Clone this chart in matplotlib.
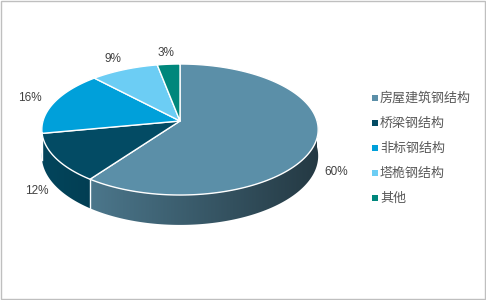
import numpy as np
import matplotlib
matplotlib.use("Agg")
import matplotlib.pyplot as plt
from matplotlib.patches import Polygon, Rectangle
from matplotlib.colors import to_rgb

plt.rcParams['font.family'] = ['Noto Sans CJK SC', 'DejaVu Sans']

categories = ["房屋建筑钢结构", "桥梁钢结构", "非标钢结构", "塔桅钢结构", "其他"]
values = [60, 12, 16, 9, 3]
labels = ["60%", "12%", "16%", "9%", "3%"]
colors = ["#5B8FA8", "#034B64", "#00A0DA", "#6CCDF4", "#00877C"]

W, H = 486, 300
fig = plt.figure(figsize=(W / 100, H / 100), dpi=100)
ax = fig.add_axes([0, 0, 1, 1])
ax.axis("off")

# border
ax.add_patch(Rectangle((1, 1), W - 2.5, H - 2.5, fill=False, ec="#BFBFBF", lw=1.0))

cx, cy, rx, ry, k, D = 180.0, 121.0, 137.0, 64.4, 0.13, 26.0


def proj(t, r=1.0, z=0.0):
    s = np.sin(t)
    f = 1.0 / (1.0 + k * s)
    return cx + rx * r * np.cos(t) * f, cy - ry * r * s * f + z * f


total = float(sum(values))
cum = np.concatenate([[0], np.cumsum(values)]) / total
starts = np.deg2rad(90 - cum[:-1] * 360)
ends = np.deg2rad(90 - cum[1:] * 360)


def shade_arr(c, xs):
    fac = 0.92 - 0.52 * np.clip((xs - 43) / 274.0, 0, 1)
    rgb = np.array(to_rgb(c))
    return fac[:, None] * rgb[None, :]


# sides (front half: angles between -pi and 0)
for i in range(len(values)):
    a0, a1 = ends[i], starts[i]
    for off in (0, 2 * np.pi, -2 * np.pi):
        lo, hi = max(a0 + off, -np.pi), min(a1 + off, 0.0)
        if hi <= lo:
            continue
        ts = np.linspace(lo, hi, 200)
        xt, yt = proj(ts)
        xb, yb = proj(ts, z=D)
        pts = list(zip(xt, yt)) + list(zip(xb[::-1], yb[::-1]))
        poly = Polygon(pts, closed=True, fc="none", ec="none", transform=ax.transData)
        ax.add_patch(poly)
        xmin, xmax = min(xt.min(), xb.min()) - 1, max(xt.max(), xb.max()) + 1
        ymin, ymax = min(yt.min(), yb.min()) - 1, max(yt.max(), yb.max()) + 1
        gx = np.linspace(xmin, xmax, 300)
        img = shade_arr(colors[i], gx)[None, :, :]
        im = ax.imshow(img, extent=(xmin, xmax, ymax, ymin), aspect="auto",
                       interpolation="bilinear", zorder=1)
        im.set_clip_path(poly)

# side boundary lines
for b in starts:
    bb = (b + np.pi) % (2 * np.pi) - np.pi
    if -np.pi < bb < 0:
        x0, y0 = proj(bb)
        x1, y1 = proj(bb, z=D)
        ax.plot([x0, x1], [y0, y1], color="white", lw=1.0, zorder=2)

# top faces
for i in range(len(values)):
    ts = np.linspace(starts[i], ends[i], 200)
    xs, ys = proj(ts)
    pts = [(cx, cy)] + list(zip(xs, ys))
    ax.add_patch(Polygon(pts, closed=True, fc=colors[i], ec="white", lw=1.0,
                         joinstyle="round", zorder=3))

# labels
for i in range(len(values)):
    m = (starts[i] + ends[i]) / 2
    s = np.sin(m)
    if s < 0:
        x, y = proj(m, r=1.15)
        y += 27
    else:
        x, y = proj(m, r=1.2)
    ax.text(x, y, labels[i], ha="center", va="center", fontsize=8.5,
            color="#404040", family=["Liberation Sans", "DejaVu Sans"], zorder=5)

# legend
for i, cat in enumerate(categories):
    yy = 98 + 25 * i
    ax.add_patch(Rectangle((372, yy - 3), 6, 6, fc=colors[i], ec="none", zorder=5))
    ax.text(380, yy, cat, ha="left", va="center", fontsize=9.4, color="#595959", zorder=5)

ax.set_xlim(0, W)
ax.set_ylim(H, 0)
fig.savefig("out.png", dpi=100)
